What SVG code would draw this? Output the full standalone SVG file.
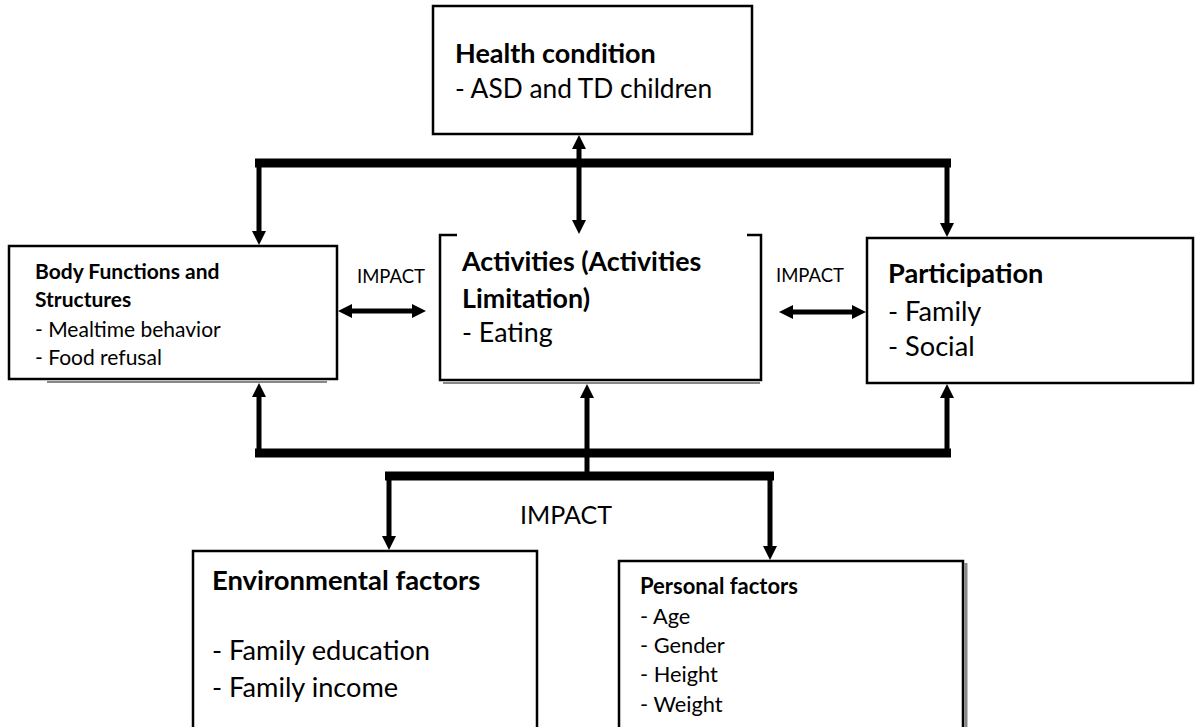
<svg xmlns="http://www.w3.org/2000/svg" width="1195" height="727" viewBox="0 0 1195 727">
<style>
text{font-family:Lato,"Open Sans","Liberation Sans",sans-serif;fill:#000}
.b{font-weight:bold}
.box{fill:#fff;stroke:#000;stroke-width:2.5}
.bar{stroke:#000;stroke-width:9;fill:none}
.ln{stroke:#000;stroke-width:5;fill:none}
.shadow{stroke:#888;stroke-width:2;fill:none}
.cover{fill:#fff}
</style>
<defs>
<marker id="ah" viewBox="0 -8 16 16" refX="1" refY="0" markerWidth="16" markerHeight="16" orient="auto-start-reverse" markerUnits="userSpaceOnUse"><path d="M0,-7 L14,0 L0,7 z" fill="#000"/></marker>
</defs>
<rect width="1195" height="727" fill="#fff"/>

<g id="health">
<rect class="box" x="433" y="6" width="319" height="128"/>
<text class="b" x="455" y="63" font-size="27">Health condition</text>
<text x="455" y="98" font-size="26.3">- ASD and TD children</text>
</g>

<g id="body">
<line class="shadow" x1="47" y1="382" x2="327" y2="382"/>
<rect class="box" x="9" y="246" width="328" height="133"/>
<text class="b" x="35" y="279" font-size="21">Body Functions and</text>
<text class="b" x="35" y="307" font-size="21">Structures</text>
<text x="35" y="337" font-size="21">- Mealtime behavior</text>
<text x="35" y="365" font-size="21">- Food refusal</text>
</g>

<g id="activities">
<line class="shadow" x1="443" y1="383" x2="760" y2="383"/>
<rect class="box" x="440" y="235" width="321" height="145"/>
<rect class="cover" x="457" y="230" width="290" height="20"/>
<text class="b" x="462" y="271" font-size="26.8">Activities (Activities</text>
<text class="b" x="462" y="308" font-size="26.8">Limitation)</text>
<text x="462" y="342" font-size="26.8">- Eating</text>
</g>

<g id="participation">
<rect class="box" x="867" y="238" width="326" height="145"/>
<text class="b" x="888" y="283" font-size="27.2">Participation</text>
<text x="888" y="321" font-size="27.2">- Family</text>
<text x="888" y="356" font-size="27.2">- Social</text>
</g>

<g id="environmental">
<rect class="box" x="193" y="551" width="344" height="190"/>
<text class="b" x="212" y="590" font-size="27.4">Environmental factors</text>
<text x="212" y="660" font-size="27.2">- Family education</text>
<text x="212" y="697" font-size="27.2">- Family income</text>
</g>

<g id="personal">
<line x1="966" y1="563" x2="966" y2="727" stroke="#888" stroke-width="3"/>
<rect class="box" x="619" y="561" width="344" height="180"/>
<text class="b" x="640" y="594" font-size="22">Personal factors</text>
<text x="640" y="624" font-size="21.8">- Age</text>
<text x="640" y="653" font-size="21.8">- Gender</text>
<text x="640" y="682" font-size="21.8">- Height</text>
<text x="640" y="712" font-size="21.8">- Weight</text>
</g>

<g id="labels">
<rect class="cover" x="340" y="250" width="98" height="52"/>
<text x="357" y="283" font-size="18.5">IMPACT</text>
<rect class="cover" x="764" y="250" width="101" height="52"/>
<text x="776" y="282" font-size="18.5">IMPACT</text>
<text x="520" y="524" font-size="25">IMPACT</text>
</g>

<g id="connectors">
<line class="bar" x1="255" y1="163" x2="951" y2="163"/>
<line class="ln" x1="259" y1="163" x2="259" y2="232" marker-end="url(#ah)"/>
<line class="ln" x1="947" y1="163" x2="947" y2="224" marker-end="url(#ah)"/>
<line class="ln" x1="579" y1="148" x2="579" y2="221" marker-start="url(#ah)" marker-end="url(#ah)"/>
<line class="ln" x1="351" y1="311" x2="413" y2="311" marker-start="url(#ah)" marker-end="url(#ah)"/>
<line class="ln" x1="792" y1="312" x2="853" y2="312" marker-start="url(#ah)" marker-end="url(#ah)"/>
<line class="bar" x1="255" y1="453" x2="951" y2="453"/>
<line class="ln" x1="259" y1="453" x2="259" y2="396" marker-end="url(#ah)"/>
<line class="ln" x1="947" y1="453" x2="947" y2="397" marker-end="url(#ah)"/>
<line class="ln" x1="587" y1="476" x2="587" y2="397" marker-end="url(#ah)"/>
<line class="bar" x1="385" y1="476" x2="774" y2="476"/>
<line class="ln" x1="389" y1="476" x2="389" y2="537" marker-end="url(#ah)"/>
<line class="ln" x1="770" y1="476" x2="770" y2="547" marker-end="url(#ah)"/>
</g>
</svg>
